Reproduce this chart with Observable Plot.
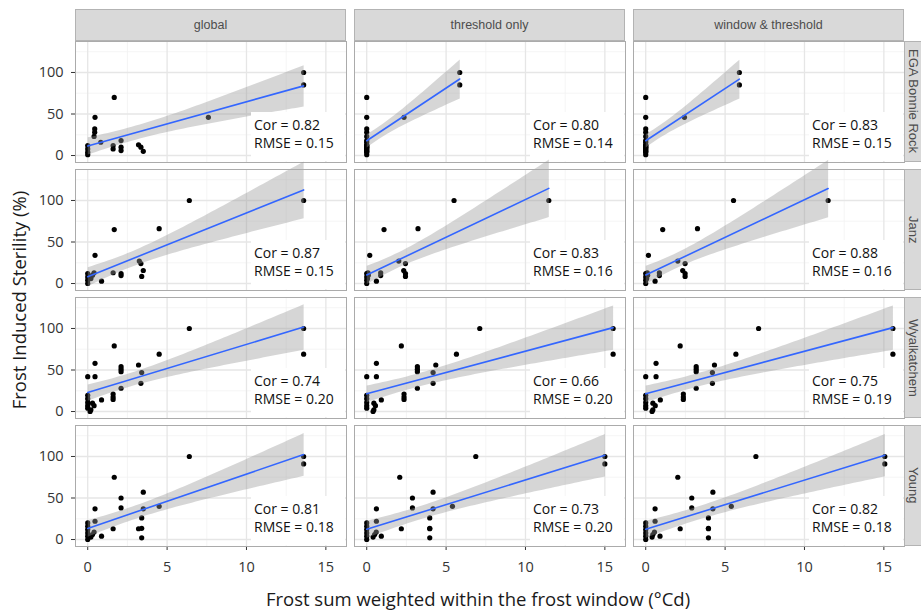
<!DOCTYPE html>
<html>
<head>
<meta charset="utf-8">
<script src="https://cdn.jsdelivr.net/npm/d3@7"></script>
<script src="https://cdn.jsdelivr.net/npm/@observablehq/plot@0.6"></script>
<style>
html,body{margin:0;padding:0;background:#fff;overflow:hidden;}
#root{position:relative;width:921px;height:610px;overflow:hidden;background:#fff;}
.panel{position:absolute;}
.strip-top{position:absolute;box-sizing:border-box;background:#d9d9d9;border:1px solid #b3b3b3;color:#4d4d4d;font-family:"Liberation Sans",Arial,sans-serif;font-size:12.5px;display:flex;align-items:center;justify-content:center;white-space:nowrap;}
.strip-right{position:absolute;box-sizing:border-box;background:#d9d9d9;border:1px solid #b3b3b3;border-right:none;color:#4d4d4d;font-family:"Liberation Sans",Arial,sans-serif;font-size:13px;line-height:14px;display:flex;align-items:center;justify-content:center;white-space:nowrap;}
.strip-right span{writing-mode:vertical-rl;}
.note{position:absolute;background:#fff;font-family:"Open Sans",sans-serif;font-size:14px;line-height:18px;color:#111;padding:4px 0 0 3px;box-sizing:border-box;white-space:nowrap;}
.title{position:absolute;font-family:"Open Sans",sans-serif;font-size:18.5px;line-height:20px;color:#1a1a1a;white-space:nowrap;}
</style>
</head>
<body>
<div id="root"></div>
<script>
// ---------- categories & labels ----------
const methods = ["global", "threshold only", "window & threshold"];
const sites = ["EGA Bonnie Rock", "Janz", "Wyalkatchem", "Young"];
const xTicks = [0, 5, 10, 15];
const xMinorTicks = [2.5, 7.5, 12.5];
const yTicks = [0, 50, 100];
const yMinorTicks = [25, 75, 125];
const xTitle = "Frost sum weighted within the frost window (°Cd)";
const yTitle = "Frost Induced Sterility (%)";
const corLabels = [
  ["0.82", "0.80", "0.83"],
  ["0.87", "0.83", "0.88"],
  ["0.74", "0.66", "0.75"],
  ["0.81", "0.73", "0.82"]
];
const rmseLabels = [
  ["0.15", "0.14", "0.15"],
  ["0.15", "0.16", "0.16"],
  ["0.20", "0.20", "0.19"],
  ["0.18", "0.20", "0.18"]
];

// ---------- EGA Bonnie Rock ----------
const bonnieSterility = [100, 85, 70, 46, 32, 28, 23, 16, 12, 8, 4, 1, 12, 8, 18, 10, 6, 13, 10, 5, 46];
const bonnieGlobal    = [13.6, 13.6, 1.67, 0.46, 0.44, 0.44, 0.40, 0.82, 0, 0, 0, 0, 1.6, 1.6, 2.1, 2.1, 2.1, 3.2, 3.35, 3.5, 7.6];
const bonnieThreshold = [5.86, 5.86, 0, 0, 0, 0, 0, 0, 0, 0, 0, 0, 0, 0, 0, 0, 0, 0, 0, 0, 2.35];
const bonnieWindow    = [5.9, 5.9, 0, 0, 0, 0, 0, 0, 0, 0, 0, 0, 0, 0, 0, 0, 0, 0, 0, 0, 2.44];

// ---------- Janz ----------
const janzSterility = [100, 100, 65, 66, 34, 27, 24, 13, 12, 9.6, 15.7, 8.6, 2.8, 12, 8, 4, 0, 10, 13, 6];
const janzGlobal    = [13.6, 6.4, 1.67, 4.5, 0.46, 3.25, 3.35, 1.6, 2.1, 2.1, 3.5, 3.4, 0.87, 0, 0, 0, 0, 0.3, 0.4, 0.2];
const janzThreshold = [11.47, 5.5, 1.09, 3.23, 0.19, 2.02, 2.44, 0.88, 2.44, 0.88, 2.33, 2.44, 0.61, 0, 0, 0, 0, 0.1, 0.08, 0.05];
const janzWindow    = [11.49, 5.53, 1.07, 3.26, 0.17, 2.02, 2.48, 0.86, 2.48, 0.86, 2.33, 2.48, 0.59, 0, 0, 0, 0, 0.12, 0.1, 0.06];

// ---------- Wyalkatchem ----------
const wyalSterility = [100, 69, 100, 79, 69, 58, 42, 42, 54, 51, 48, 56, 47, 34, 28, 21, 17.5, 14.6, 14, 19.5, 15.5, 11, 7, 4, 10, 7, 2, 0];
const wyalGlobal    = [13.6, 13.6, 6.4, 1.67, 4.5, 0.46, 0, 0.46, 2.1, 2.1, 2.1, 3.2, 3.4, 3.35, 2.1, 1.6, 1.6, 1.6, 0.87, 0, 0, 0, 0, 0, 0.3, 0.4, 0.2, 0.15];
const wyalThreshold = [15.52, 15.52, 7.12, 2.18, 5.65, 0.61, 0, 0.61, 3.19, 3.19, 3.19, 4.35, 4.18, 4.18, 3.19, 2.35, 2.35, 2.35, 0.92, 0, 0, 0, 0, 0, 0.45, 0.55, 0.45, 0.4];
const wyalWindow    = [15.57, 15.57, 7.11, 2.17, 5.68, 0.65, 0, 0.65, 3.18, 3.18, 3.18, 4.33, 4.2, 4.2, 3.18, 2.37, 2.37, 2.37, 0.92, 0, 0, 0, 0, 0, 0.45, 0.6, 0.45, 0.4];

// ---------- Young ----------
const youngSterility = [100, 91, 100, 75, 57, 50, 38, 37, 37, 40, 26, 22, 13, 13, 13.5, 4, 2, 20, 16, 12, 8, 4, 0, 6, 9, 3];
const youngGlobal    = [13.6, 13.6, 6.4, 1.67, 3.5, 2.1, 2.1, 0.46, 3.5, 4.5, 3.4, 0.46, 1.6, 3.2, 3.4, 0.87, 3.4, 0, 0, 0, 0, 0, 0, 0.3, 0.4, 0.2];
const youngThreshold = [15.0, 15.0, 6.87, 2.08, 4.18, 2.88, 2.88, 0.61, 4.18, 5.4, 3.97, 0.61, 2.18, 3.97, 3.97, 0.92, 3.97, 0, 0, 0, 0, 0, 0, 0.5, 0.6, 0.4];
const youngWindow    = [15.06, 15.06, 6.94, 2.02, 4.23, 2.9, 2.9, 0.59, 4.23, 5.39, 3.95, 0.59, 2.17, 3.95, 3.95, 0.9, 3.95, 0, 0, 0, 0, 0, 0, 0.45, 0.55, 0.4];

// ---------- assemble ----------
const siteSeries = [
  {y: bonnieSterility, xs: [bonnieGlobal, bonnieThreshold, bonnieWindow]},
  {y: janzSterility,   xs: [janzGlobal, janzThreshold, janzWindow]},
  {y: wyalSterility,   xs: [wyalGlobal, wyalThreshold, wyalWindow]},
  {y: youngSterility,  xs: [youngGlobal, youngThreshold, youngWindow]}
];

// layout
const colLeft = [75, 354, 633];
const rowTop = [41, 169, 297, 425];
const W = 271, H = 121;
const xDomain = [-0.77, 16.3];
const yDomain = [-8.4, 137.3];

const root = document.getElementById("root");

function addDiv(cls, styles, html) {
  const d = document.createElement("div");
  d.className = cls;
  Object.assign(d.style, styles);
  if (html != null) d.innerHTML = html;
  root.appendChild(d);
  return d;
}

sites.forEach((site, r) => {
  methods.forEach((method, c) => {
    const s = siteSeries[r];
    const data = s.y.map((v, i) => ({x: s.xs[c][i], y: v}));
    const ml = c === 0 ? 75 : 0;
    const mb = r === 3 ? 36 : 0;
    const chart = Plot.plot({
      width: W + ml,
      height: H + mb,
      marginLeft: ml,
      marginRight: 0,
      marginTop: 0,
      marginBottom: mb,
      style: {background: "transparent", fontFamily: "Open Sans, sans-serif", fontSize: "14.5px", color: "#333", overflow: "visible", maxWidth: "none"},
      x: {domain: xDomain, ticks: xTicks, tickSize: 4, tickPadding: 11, label: null, axis: r === 3 ? "bottom" : null},
      y: {domain: yDomain, ticks: yTicks, tickSize: 4, tickPadding: 8, label: null, axis: c === 0 ? "left" : null},
      marks: [
        Plot.ruleX(xMinorTicks, {stroke: "#f0f0f0", strokeWidth: 0.7}),
        Plot.ruleY(yMinorTicks, {stroke: "#f0f0f0", strokeWidth: 0.7}),
        Plot.ruleX(xTicks, {stroke: "#e6e6e6", strokeWidth: 1.3}),
        Plot.ruleY(yTicks, {stroke: "#e6e6e6", strokeWidth: 1.3}),
        Plot.dot(data, {x: "x", y: "y", r: 2.6, fill: "#000", stroke: null}),
        Plot.linearRegressionY(data, {x: "x", y: "y", stroke: "#3366FF", strokeWidth: 1.6, fill: "#999999", fillOpacity: 0.4, ci: 0.95}),
        Plot.frame({stroke: "#ababab", strokeWidth: 1})
      ]
    });
    const holder = addDiv("panel", {left: (colLeft[c] - ml) + "px", top: rowTop[r] + "px", width: (W + ml) + "px", height: (H + mb) + "px"});
    holder.appendChild(chart);

    // statistics annotation
    addDiv("note", {
      left: (colLeft[c] + 176) + "px",
      top: (rowTop[r] + 71) + "px",
      width: (W - 177) + "px",
      height: (H - 72) + "px"
    }, "Cor = " + corLabels[r][c] + "<br>RMSE = " + rmseLabels[r][c]);
  });
});

// top strips
methods.forEach((m, c) => {
  addDiv("strip-top", {left: colLeft[c] + "px", top: "9px", width: W + "px", height: "32px"}, m);
});
// right strips
sites.forEach((s, r) => {
  addDiv("strip-right", {left: (colLeft[2] + W) + "px", top: rowTop[r] + "px", width: "17px", height: H + "px"}, "<span>" + s + "</span>");
});

// axis titles
addDiv("title", {left: "478px", top: "589px", transform: "translateX(-50%)"}, xTitle);
addDiv("title", {left: "19px", top: "300px", transform: "translate(-50%,-50%) rotate(-90deg)"}, yTitle);
</script>
</body>
</html>
